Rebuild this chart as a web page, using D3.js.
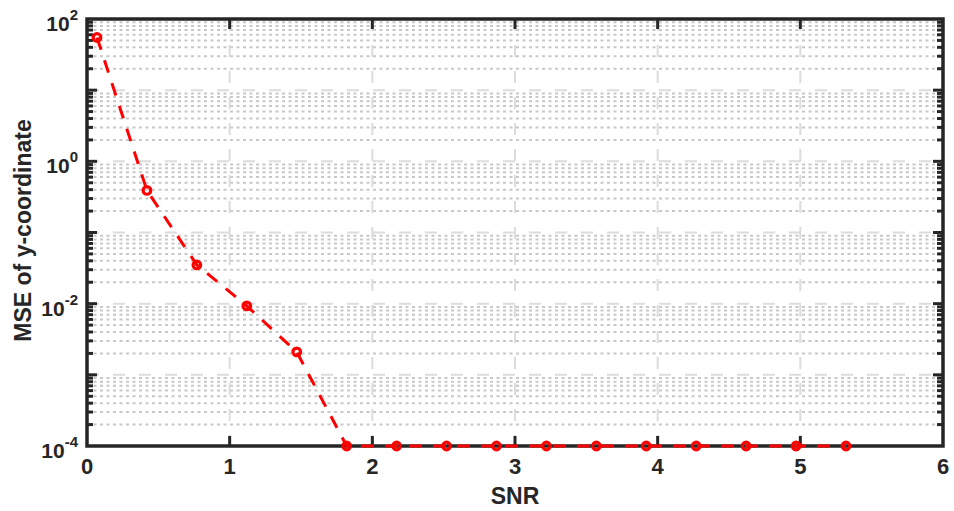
<!DOCTYPE html>
<html>
<head>
<meta charset="utf-8">
<script src="https://cdn.jsdelivr.net/npm/d3@7"></script>
<style>
  body { margin: 0; background: #fff; }
  text { font-family: "Liberation Sans", Arial, sans-serif; font-weight: bold; fill: #262626; }
</style>
</head>
<body>
<div id="chart"></div>
<script>
// data
var snr = [0.07, 0.42, 0.77, 1.12, 1.47, 1.82, 2.17, 2.52, 2.87, 3.22, 3.57, 3.92, 4.27, 4.62, 4.97, 5.32];
var mse = [55, 0.39, 0.035, 0.0093, 0.0021, 1e-4, 1e-4, 1e-4, 1e-4, 1e-4, 1e-4, 1e-4, 1e-4, 1e-4, 1e-4, 1e-4];
var xTicks = [0, 1, 2, 3, 4, 5, 6];
var yExps = [-4, -2, 0, 2];
var xLabel = "SNR";
var yLabel = "MSE of y-coordinate";

var W = 954, H = 511;
// plot box (window.top is reserved, so use own names)
var pL = 87, pR = 943, pT = 19, pB = 446;

var svg = d3.select("#chart").append("svg").attr("width", W).attr("height", H);

var x = d3.scaleLinear().domain([0, 6]).range([pL, pR]);
var y = d3.scaleLog().domain([1e-4, 1e2]).range([pB, pT]);

// minor values 2..9 in each decade
var minor = [];
for (var e = -4; e < 2; e++) {
    for (var m = 2; m <= 9; m++) minor.push(m * Math.pow(10, e));
}
var majorY = [1e-3, 1e-2, 1e-1, 1, 10];

// minor grid (dotted)
svg.selectAll(".mgrid").data(minor).enter().append("line")
    .attr("x1", pL).attr("x2", pR)
    .attr("y1", function (d) { return y(d); }).attr("y2", function (d) { return y(d); })
    .attr("stroke", "#c8c8c8").attr("stroke-width", 2)
    .attr("stroke-dasharray", "3,3.5");

// major grid (dashed)
svg.selectAll(".hgrid").data(majorY).enter().append("line")
    .attr("x1", pL).attr("x2", pR)
    .attr("y1", function (d) { return y(d); }).attr("y2", function (d) { return y(d); })
    .attr("stroke", "#dcdcdc").attr("stroke-width", 2)
    .attr("stroke-dasharray", "12,14");
svg.selectAll(".vgrid").data(xTicks.slice(1, -1)).enter().append("line")
    .attr("x1", function (d) { return x(d); }).attr("x2", function (d) { return x(d); })
    .attr("y1", pT).attr("y2", pB)
    .attr("stroke", "#dcdcdc").attr("stroke-width", 2)
    .attr("stroke-dasharray", "12,14");

// ticks, inside the box
var axisCol = "#262626";
var tk = svg.append("g").attr("stroke", axisCol).attr("stroke-width", 3);
xTicks.slice(1, -1).forEach(function (d) {
    tk.append("line").attr("x1", x(d)).attr("x2", x(d)).attr("y1", pB).attr("y2", pB - 10);
    tk.append("line").attr("x1", x(d)).attr("x2", x(d)).attr("y1", pT).attr("y2", pT + 10);
});
minor.forEach(function (d) {
    tk.append("line").attr("x1", pL).attr("x2", pL + 6).attr("y1", y(d)).attr("y2", y(d));
    tk.append("line").attr("x1", pR).attr("x2", pR - 6).attr("y1", y(d)).attr("y2", y(d));
});
majorY.forEach(function (d) {
    tk.append("line").attr("x1", pL).attr("x2", pL + 10).attr("y1", y(d)).attr("y2", y(d));
    tk.append("line").attr("x1", pR).attr("x2", pR - 10).attr("y1", y(d)).attr("y2", y(d));
});

// box
svg.append("rect").attr("x", pL).attr("y", pT)
    .attr("width", pR - pL).attr("height", pB - pT)
    .attr("fill", "none").attr("stroke", axisCol).attr("stroke-width", 3.5);

// x tick labels
svg.selectAll(".xl").data(xTicks).enter().append("text")
    .attr("x", function (d) { return x(d); }).attr("y", pB + 28)
    .attr("text-anchor", "middle").attr("font-size", 22)
    .text(function (d) { return d; });

// y tick labels 10^k
yExps.forEach(function (k) {
    var t = svg.append("text").attr("x", 78).attr("y", y(Math.pow(10, k)) + 12)
        .attr("text-anchor", "end").attr("font-size", 21);
    t.append("tspan").text("10");
    t.append("tspan").attr("dy", -11).attr("font-size", 15).text(k);
});

// axis labels
svg.append("text").attr("x", (pL + pR) / 2).attr("y", 504)
    .attr("text-anchor", "middle").attr("font-size", 23).text(xLabel);
svg.append("text").attr("transform", "translate(31," + ((pT + pB) / 2 - 2) + ") rotate(-90)")
    .attr("text-anchor", "middle").attr("font-size", 23).text(yLabel);

// data line
var pts = snr.map(function (d, i) { return [d, mse[i]]; });
var line = d3.line()
    .x(function (d) { return x(d[0]); })
    .y(function (d) { return y(d[1]); });
svg.append("path").attr("d", line(pts))
    .attr("fill", "none").attr("stroke", "#ff0000").attr("stroke-width", 3)
    .attr("stroke-dasharray", "13,11");

// markers
svg.selectAll(".mk").data(pts).enter().append("circle")
    .attr("cx", function (d) { return x(d[0]); })
    .attr("cy", function (d) { return y(d[1]); })
    .attr("r", 3.8)
    .attr("fill", "none").attr("stroke", "#ff0000").attr("stroke-width", 3.2);
</script>
</body>
</html>
